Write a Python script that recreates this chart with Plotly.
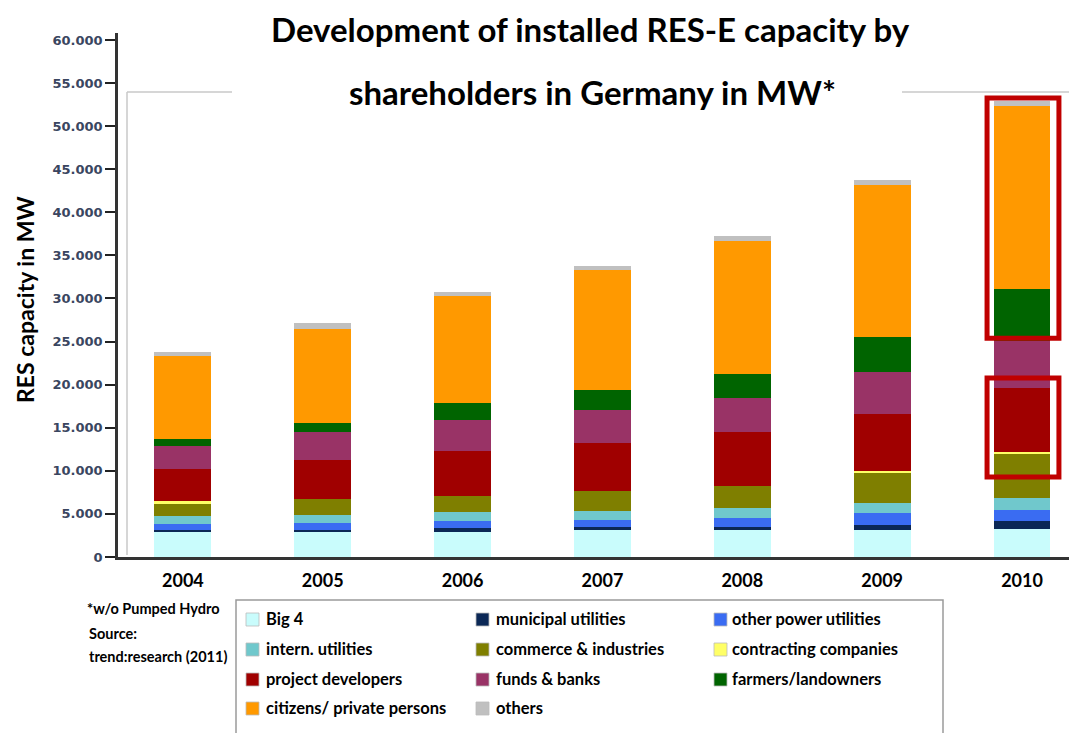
import plotly.graph_objects as go

# ---------------- data (MW) ----------------
years = [2004, 2005, 2006, 2007, 2008, 2009, 2010]
year_labels = ["2004", "2005", "2006", "2007", "2008", "2009", "2010"]

big4 = [2900, 2900, 2900, 3100, 3100, 3100, 3300]
municipal = [270, 250, 460, 390, 430, 620, 850]
other_power = [700, 770, 770, 810, 970, 1350, 1350]
intern_util = [850, 970, 1080, 1040, 1160, 1160, 1390]
commerce = [1430, 1820, 1860, 2320, 2590, 3480, 5100]
contracting = [300, 0, 0, 0, 0, 270, 190]
project_dev = [3750, 4560, 5220, 5600, 6300, 6650, 7460]
funds_banks = [2630, 3210, 3630, 3750, 3870, 4830, 5450]
farmers = [890, 1120, 1930, 2350, 2780, 4060, 6000]
citizens = [9630, 10900, 12400, 13900, 15450, 17630, 21250]
others = [450, 600, 460, 460, 580, 580, 580]

series_names = ["Big 4", "municipal utilities", "other power utilities",
                "intern. utilities", "commerce & industries", "contracting companies",
                "project developers", "funds & banks", "farmers/landowners",
                "citizens/ private persons", "others"]
series_values = [big4, municipal, other_power, intern_util, commerce, contracting,
                 project_dev, funds_banks, farmers, citizens, others]
series_colors = ["#c9fcfc", "#0b2856", "#3a6cf2", "#70c8cc", "#7f7f00", "#ffff66",
                 "#a00000", "#993366", "#006400", "#ff9900", "#c0c0c0"]

y_ticks = [0, 5000, 10000, 15000, 20000, 25000, 30000, 35000, 40000, 45000,
           50000, 55000, 60000]

# ---------------- layout helpers (pixel -> paper) ----------------
W, H = 1069, 733
L, R, T, B = 118, 1069, 33, 557


def px(x):
    return (x - L) / (R - L)


def py(y):
    return (B - y) / (B - T)


fig = go.Figure()
for name, vals, col in zip(series_names, series_values, series_colors):
    fig.add_trace(go.Bar(x=years, y=vals, name=name, marker_color=col,
                         marker_line_width=0, width=0.407, showlegend=False))

fig.update_layout(
    barmode="stack",
    width=W, height=H,
    margin=dict(l=L, r=W - R, t=T, b=H - B, pad=0),
    plot_bgcolor="white", paper_bgcolor="white",
    separators=",.",
    font=dict(family="Lato, sans-serif", color="black"),
)

fig.update_xaxes(
    range=[2003.536, 2010.336], tickvals=years, ticktext=year_labels,
    showline=True, linecolor="#333333", linewidth=2.5, showgrid=False,
    ticks="outside", ticklen=6, tickcolor="rgba(0,0,0,0)",
    tickfont=dict(family="Lato", size=18, color="black", weight="bold"),
    zeroline=False,
)
fig.update_yaxes(
    range=[0, (B - T) / 8.617 * 1000], tickvals=y_ticks, tickformat=",d",
    showline=True, linecolor="#333333", linewidth=2.5, showgrid=False,
    ticks="outside", ticklen=10, tickwidth=2, tickcolor="#222222",
    tickfont=dict(family="DejaVu Sans", size=13, color="#3a4660", weight="bold"),
    zeroline=False,
)

shapes = []
annotations = []

# light grey frame of the plot area
frame = dict(type="line", xref="paper", yref="paper",
             line=dict(color="#c8c8c8", width=1.5))
shapes.append({**frame, "x0": px(127), "x1": px(127), "y0": py(92), "y1": py(555)})
shapes.append({**frame, "x0": px(127), "x1": px(232), "y0": py(92), "y1": py(92)})
shapes.append({**frame, "x0": px(902), "x1": px(1069), "y0": py(92), "y1": py(92)})

# red highlight boxes around the 2010 bar
hl = dict(type="rect", xref="x", yref="y", x0=2009.75, x1=2010.264,
          line=dict(color="#c00000", width=5), fillcolor="rgba(0,0,0,0)")
shapes.append({**hl, "y0": 25400, "y1": 53270})
shapes.append({**hl, "y0": 9280, "y1": 20770})

# title (two lines)
annotations.append(dict(text="<b>Development of installed RES-E capacity by</b>",
                        xref="paper", yref="paper", x=px(590), y=py(29),
                        xanchor="center", yanchor="middle", showarrow=False,
                        font=dict(family="Lato", size=33, color="black")))
annotations.append(dict(text="<b>shareholders in Germany in MW*</b>",
                        xref="paper", yref="paper", x=px(592), y=py(92),
                        xanchor="center", yanchor="middle", showarrow=False,
                        font=dict(family="Lato", size=33, color="black")))

# y-axis title
annotations.append(dict(text="<b>RES capacity in MW</b>", xref="paper", yref="paper",
                        x=px(25), y=py(300), textangle=-90, xanchor="center",
                        yanchor="middle", showarrow=False,
                        font=dict(family="Lato", size=23, color="black")))

# notes
for txt, xx, yy in [("*w/o Pumped Hydro", 85, 608), ("Source:", 87, 633),
                    ("trend:research (2011)", 87, 656)]:
    annotations.append(dict(text="<b>" + txt + "</b>", xref="paper", yref="paper",
                            x=px(xx), y=py(yy), xanchor="left", yanchor="middle",
                            showarrow=False,
                            font=dict(family="Lato", size=14.5, color="black")))

# custom legend box
shapes.append(dict(type="rect", xref="paper", yref="paper",
                   x0=px(236), x1=px(943), y0=py(760), y1=py(600),
                   line=dict(color="#9a9a9a", width=1.5), fillcolor="white", layer="below"))
col_sq = [246, 476, 714]
col_tx = [264, 494, 730]
row_y = [619, 649, 679, 708]
for i, (name, col) in enumerate(zip(series_names, series_colors)):
    r, c = divmod(i, 3)
    cy = row_y[r]
    shapes.append(dict(type="rect", xref="paper", yref="paper",
                       x0=px(col_sq[c]), x1=px(col_sq[c] + 13),
                       y0=py(cy + 7), y1=py(cy - 6),
                       line=dict(color="#bbbbbb", width=0.8), fillcolor=col))
    annotations.append(dict(text="<b>" + name + "</b>", xref="paper", yref="paper",
                            x=px(col_tx[c]), y=py(cy), xanchor="left", yanchor="middle",
                            showarrow=False,
                            font=dict(family="Lato", size=16.5, color="black")))

fig.update_layout(shapes=shapes, annotations=annotations)

fig.write_html("out.html", config={"displayModeBar": False},
               post_script="document.body.style.margin='0';document.body.style.overflow='hidden';")
